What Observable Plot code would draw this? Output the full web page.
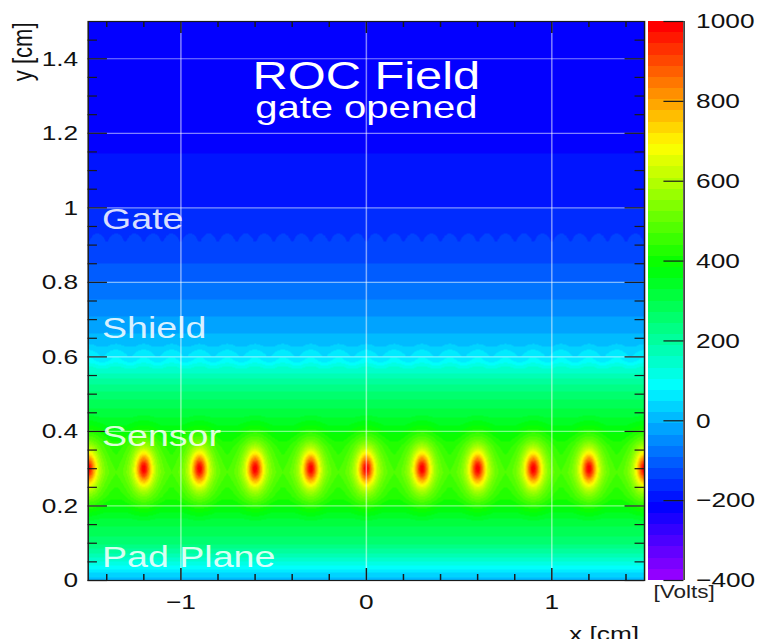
<!DOCTYPE html>
<html>
<head>
<meta charset="utf-8">
<script src="https://cdn.jsdelivr.net/npm/d3@7"></script>
<script src="https://cdn.jsdelivr.net/npm/@observablehq/plot@0.6"></script>
<style>
  body { margin: 0; background: #fff; }
  #chart { position: relative; width: 763px; height: 639px; overflow: hidden; }
  #chart svg { position: absolute; left: 0; top: 0; }
</style>
</head>
<body>
<div id="chart"></div>
<script>
// Electric potential (V) in the readout chamber, sampled between wires (y in cm)
const profileY = [0, 0.02, 0.045, 0.07, 0.1, 0.161, 0.223, 0.29, 0.362, 0.437, 0.504, 0.542, 0.571, 0.59,
                  0.617, 0.644, 0.676, 0.716, 0.751, 0.797, 0.826, 0.867, 0.893, 0.95, 1.0, 1.146, 1.5];
const profileV = [0, 45, 120, 180, 250, 320, 420, 470, 425, 330, 250, 190, 130, 60,
                  30, 5, -18, -40, -62, -88, -108, -128, -142, -162, -176, -204, -232];

// Sensor (anode) wire plane
const sensorWireX = [-1.5, -1.2, -0.9, -0.6, -0.3, 0, 0.3, 0.6, 0.9, 1.2, 1.5];
const sensorWireY = 0.3;
const sensorWireV = 1000;

// Shield (cathode) wire plane
const shieldWireX = [-1.5, -1.35, -1.2, -1.05, -0.9, -0.75, -0.6, -0.45, -0.3, -0.15, 0,
                     0.15, 0.3, 0.45, 0.6, 0.75, 0.9, 1.05, 1.2, 1.35, 1.5];
const shieldWireY = 0.6;

// Gating grid
const gateWireX = [-1.45, -1.35, -1.25, -1.15, -1.05, -0.95, -0.85, -0.75, -0.65, -0.55, -0.45, -0.35, -0.25, -0.15, -0.05,
                   0.05, 0.15, 0.25, 0.35, 0.45, 0.55, 0.65, 0.75, 0.85, 0.95, 1.05, 1.15, 1.25, 1.35, 1.45];
const gateWireY = 0.9;

// Axis ticks
const xTicks = [-1, 0, 1];
const xMinorTicks = [-1.4, -1.2, -0.8, -0.6, -0.4, -0.2, 0.2, 0.4, 0.6, 0.8, 1.2, 1.4];
const yTicks = [0, 0.2, 0.4, 0.6, 0.8, 1, 1.2, 1.4];
const yMinorTicks = [0.05, 0.1, 0.15, 0.25, 0.3, 0.35, 0.45, 0.5, 0.55, 0.65, 0.7, 0.75,
                     0.85, 0.9, 0.95, 1.05, 1.1, 1.15, 1.25, 1.3, 1.35, 1.45];
const colorTicks = [-400, -200, 0, 200, 400, 600, 800, 1000];

// Annotations
const regionLabels = ["Gate", "Shield", "Sensor", "Pad Plane"];
const regionLabelY = [0.944, 0.652, 0.36, 0.035];
const titleText = "ROC Field";
const subtitleText = "gate opened";

// ---- palette: 50 HLS steps from violet to red ----
const vMin = -400, vMax = 1000, nColors = 50;
const step = (vMax - vMin) / nColors;
const paletteThresholds = d3.range(1, nColors).map(i => vMin + i * step);
const paletteColors = d3.range(nColors).map(i => d3.hsl(280 - (i + 1) * 280 / nColors, 1, 0.5).formatHex());
const colorOptions = {type: "threshold", domain: paletteThresholds, range: paletteColors};

// ---- field model ----
const background = d3.scaleLinear().domain(profileY).range(profileV).clamp(true);
const anodeCore = 0.042, anodeReach = 0.15;

function bump(dx, dy, rx, ry) {
  const d2 = (dx / rx) ** 2 + (dy / ry) ** 2;
  return d2 < 1 ? 1 - d2 : 0;
}

function potential(x, y) {
  const base = background(y);
  let v = base;
  const dy = y - sensorWireY;
  if (Math.abs(dy) < anodeReach) {
    for (const wx of sensorWireX) {
      const r2 = (x - wx) ** 2 + dy * dy;
      if (r2 < anodeReach * anodeReach) {
        v += (sensorWireV - base) * (1 / (1 + r2 / (anodeCore * anodeCore))) * (1 - r2 / (anodeReach * anodeReach));
      }
    }
  }
  const gy = y - gateWireY;
  if (Math.abs(gy) < 0.05) for (const wx of gateWireX) v += 18 * bump(x - wx, gy, 0.045, 0.04);
  const sy = y - shieldWireY;
  if (Math.abs(sy) < 0.05) for (const wx of shieldWireX) v += 26 * bump(x - wx, sy, 0.065, 0.04);
  return v;
}

// ---- layout (drawn on a 610-wide canvas, displayed 763 wide) ----
const W = 610, H = 639, DISPLAY_W = 763;
const frameLeft = 70, frameRight = 514.8, frameTop = 21, frameBottom = 580;
const frameW = frameRight - frameLeft, frameH = frameBottom - frameTop;
const FONT = "'Liberation Sans', Arial, Helvetica, sans-serif";
const fmt = d3.format("~g");
const gridStyle = {stroke: "white", strokeOpacity: 0.5, strokeWidth: 1.2};
const tickStyle = {stroke: "#1a1a1a", strokeWidth: 1.2};

const main = Plot.plot({
  width: W, height: H,
  marginLeft: frameLeft, marginRight: W - frameRight, marginTop: frameTop, marginBottom: H - frameBottom,
  style: {fontFamily: FONT, fontSize: "21px", color: "#111", background: "white"},
  x: {domain: [-1.5, 1.5]},
  y: {domain: [0, 1.5]},
  color: colorOptions,
  marks: [
    Plot.raster({x1: -1.5, x2: 1.5, y1: 0, y2: 1.5, width: 556, height: 559, fill: potential}),
    Plot.gridX(xTicks, gridStyle),
    Plot.gridY(yTicks.slice(1), gridStyle),
    // ticks pointing inward on all four sides
    Plot.tickX(xTicks, {x: d => d, insetTop: frameH - 12, ...tickStyle}),
    Plot.tickX(xMinorTicks, {x: d => d, insetTop: frameH - 6, ...tickStyle}),
    Plot.tickX(xTicks, {x: d => d, insetBottom: frameH - 12, ...tickStyle}),
    Plot.tickX(xMinorTicks, {x: d => d, insetBottom: frameH - 6, ...tickStyle}),
    Plot.tickY(yTicks, {y: d => d, insetRight: frameW - 15.5, ...tickStyle}),
    Plot.tickY(yMinorTicks, {y: d => d, insetRight: frameW - 7.5, ...tickStyle}),
    Plot.tickY(yTicks, {y: d => d, insetLeft: frameW - 15.5, ...tickStyle}),
    Plot.tickY(yMinorTicks, {y: d => d, insetLeft: frameW - 7.5, ...tickStyle}),
    Plot.frame({stroke: "#1a1a1a", strokeWidth: 1.2}),
    Plot.axisX(xTicks, {anchor: "bottom", tickSize: 0, tickPadding: 14, tickFormat: fmt, label: null}),
    Plot.axisY(yTicks, {anchor: "left", tickSize: 0, tickPadding: 8, tickFormat: fmt, label: null}),
    // axis titles
    Plot.text(["y [cm]"], {frameAnchor: "top-left", rotate: -90, textAnchor: "end", lineAnchor: "middle",
                           dx: -51.6, dy: 1, fontSize: 22, fill: "#111"}),
    Plot.text(["x [cm]"], {frameAnchor: "bottom-right", textAnchor: "end", lineAnchor: "bottom",
                           dx: -4.4, dy: 60, fontSize: 21, fill: "#111"}),
    // plot title
    Plot.text([titleText], {x: 0, y: 1.32, lineAnchor: "bottom", fontSize: 39, fill: "white"}),
    Plot.text([subtitleText], {x: 0, y: 1.24, lineAnchor: "bottom", fontSize: 32, fill: "white"}),
    // electrode labels
    Plot.text(regionLabels, {x: -1.425, y: (d, i) => regionLabelY[i], textAnchor: "start", lineAnchor: "bottom",
                             fontSize: 30, fill: "white", fillOpacity: 0.85})
  ]
});

// ---- colour bar ----
const bands = d3.range(nColors).map(i => ({lo: vMin + i * step, hi: vMin + (i + 1) * step}));
const barLeft = 518.4, barRight = 546.4, barW = barRight - barLeft;
const bar = Plot.plot({
  width: W, height: H,
  marginLeft: barLeft, marginRight: W - barRight, marginTop: frameTop, marginBottom: H - frameBottom,
  style: {fontFamily: FONT, fontSize: "21px", color: "#111", background: "transparent"},
  x: {domain: [0, 1], axis: null},
  y: {domain: [vMin, vMax]},
  color: colorOptions,
  marks: [
    Plot.rect(bands, {x1: 0, x2: 1, y1: "lo", y2: "hi", fill: d => (d.lo + d.hi) / 2, shapeRendering: "crispEdges"}),
    Plot.ruleX([1], {x: d => d, stroke: "#1a1a1a", strokeWidth: 1.2}),
    Plot.tickY(colorTicks, {y: d => d, insetLeft: barW - 16, ...tickStyle}),
    Plot.axisY(colorTicks, {anchor: "right", tickSize: 0, tickPadding: 9.6, tickFormat: fmt, label: null}),
    Plot.text(["[Volts]"], {frameAnchor: "bottom-left", textAnchor: "start", lineAnchor: "bottom",
                            dx: 3.6, dy: 17, fontSize: 18, fill: "#222"})
  ]
});

const chart = document.getElementById("chart");
for (const svg of [main, bar]) {
  svg.setAttribute("viewBox", `0 0 ${W} ${H}`);
  svg.setAttribute("width", DISPLAY_W);
  svg.setAttribute("height", H);
  svg.setAttribute("preserveAspectRatio", "none");
  svg.style.width = DISPLAY_W + "px";
  svg.style.height = H + "px";
  svg.style.maxWidth = "none";
  chart.appendChild(svg);
}
</script>
</body>
</html>
